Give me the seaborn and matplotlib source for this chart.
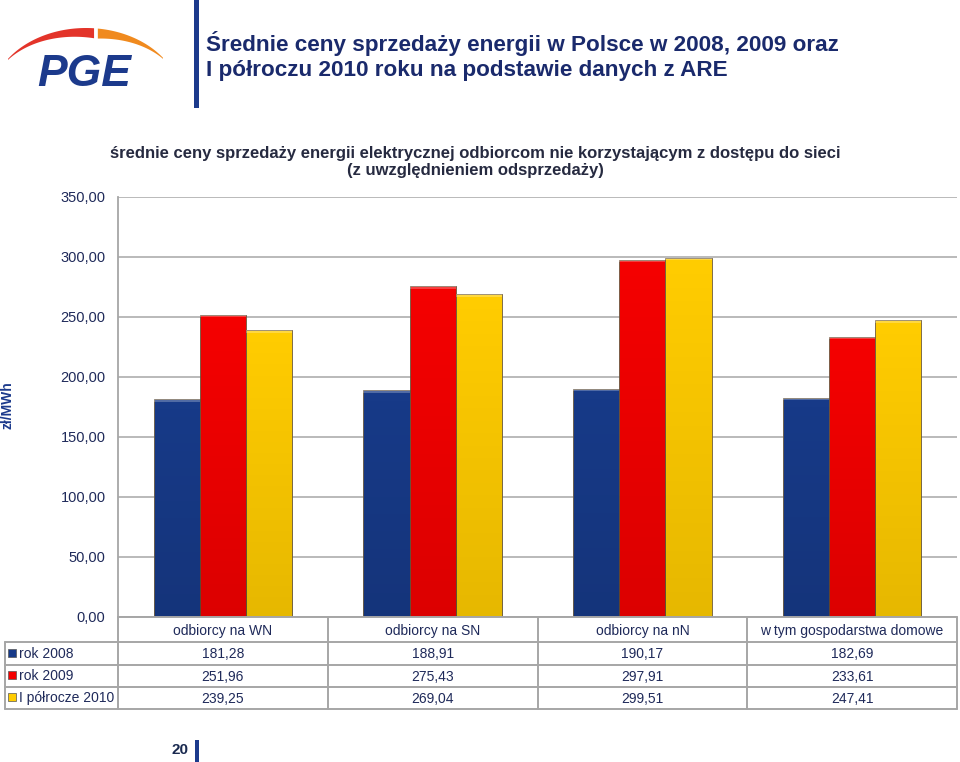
import numpy as np
import pandas as pd
import matplotlib
matplotlib.use("Agg")
import matplotlib.pyplot as plt
import seaborn as sns
from matplotlib.patches import Rectangle, Polygon

# ---- data ----
categories = ["odbiorcy na WN", "odbiorcy na SN", "odbiorcy na nN", "w tym gospodarstwa domowe"]
series = ["rok 2008", "rok 2009", "I półrocze 2010"]
v2008 = [181.28, 188.91, 190.17, 182.69]
v2009 = [251.96, 275.43, 297.91, 233.61]
v2010 = [239.25, 269.04, 299.51, 247.41]
yticks = [0, 50, 100, 150, 200, 250, 300, 350]

title = "Średnie ceny sprzedaży energii w Polsce w 2008, 2009 oraz\nI półroczu 2010 roku na podstawie danych z ARE"
subtitle = "średnie ceny sprzedaży energii elektrycznej odbiorcom nie korzystającym z dostępu do sieci\n(z uwzględnieniem odsprzedaży)"
ylabel = "zł/MWh"
page = "20"

colors = ["#173a88", "#f40000", "#ffcc00"]
navy = "#1c3a8c"
textc = "#1f2a5a"

sns.set_theme(style="white")
plt.rcParams['font.family'] = ['Liberation Sans', 'DejaVu Sans']

W, H = 960, 762
fig = plt.figure(figsize=(W / 100, H / 100), dpi=100)


def fy(py):
    return 1 - py / H


# ---- main axes ----
x0, x1, ytop, ybot = 118, 957, 197, 617
ax = fig.add_axes([x0 / W, fy(ybot), (x1 - x0) / W, (ybot - ytop) / H])

df = pd.DataFrame({
    "cat": categories * 3,
    "ser": [series[0]] * 4 + [series[1]] * 4 + [series[2]] * 4,
    "val": v2008 + v2009 + v2010,
})
sns.barplot(data=df, x="cat", y="val", hue="ser", order=categories, hue_order=series,
            palette=colors, width=0.66, gap=0, saturation=1, ax=ax, legend=False,
            edgecolor="#6a5a40", linewidth=0.6, zorder=3)

# subtle shading on bars
for p in ax.patches:
    bx, by = p.get_x(), p.get_y()
    bw, bh = p.get_width(), p.get_height()
    grad = np.linspace(0, 1, 64).reshape(-1, 1)
    im = ax.imshow(grad, extent=[bx, bx + bw, by, by + bh], aspect="auto",
                   cmap=matplotlib.colors.LinearSegmentedColormap.from_list(
                       "g", [(0, 0, 0, 0.10), (0, 0, 0, 0.0)]),
                   origin="lower", zorder=4, interpolation="bilinear")
    im.set_clip_path(p)
    ax.add_patch(Rectangle((bx, by + bh - 2.2), bw, 2.2, facecolor="white", alpha=0.25,
                           edgecolor="none", zorder=5, clip_on=True))

ax.set_xlim(-0.5, 3.5)
ax.set_ylim(0, 350)
ax.set_yticks(yticks)
ax.set_yticklabels([f"{v:.2f}".replace(".", ",") for v in yticks], color=textc, fontsize=10.5)
ax.set_xticks([])
ax.set_xlabel("")
ax.set_ylabel("")
ax.yaxis.grid(True, color="#b4b4b4", lw=1.3)
ax.set_axisbelow(True)
ax.tick_params(axis="y", length=0, pad=9)
for s in ["top", "right", "bottom"]:
    ax.spines[s].set_visible(False)
ax.spines["left"].set_color("#a6a6a6")
ax.spines["left"].set_linewidth(1.3)

fig.text(8 / W, fy(405), ylabel, rotation=90, ha="center", va="center",
         fontsize=10, fontweight="bold", color=navy)

# ---- overlay axes in pixel coords ----
ov = fig.add_axes([0, 0, 1, 1], facecolor="none")
ov.set_xlim(0, W)
ov.set_ylim(H, 0)
ov.axis("off")

# table
colx = [x0 + i * (x1 - x0) / 4 for i in range(5)]
rows_y = [617, 642, 665, 687, 709]
lc = "#a6a6a6"
ov.plot([x0, x1], [rows_y[0]] * 2, color=lc, lw=1.4)
for yy in rows_y[1:]:
    ov.plot([5, x1], [yy, yy], color=lc, lw=1.4)
ov.plot([5, 5], [rows_y[1], rows_y[-1]], color=lc, lw=1.4)
for xx in colx:
    ov.plot([xx, xx], [rows_y[0], rows_y[-1]], color=lc, lw=1.4)

for i, c in enumerate(categories):
    ov.text((colx[i] + colx[i + 1]) / 2, (rows_y[0] + rows_y[1]) / 2 + 1, c,
            ha="center", va="center", fontsize=10, color=textc)

for r, (name, vals) in enumerate(zip(series, [v2008, v2009, v2010])):
    yc = (rows_y[r + 1] + rows_y[r + 2]) / 2
    ov.add_patch(Rectangle((8, yc - 5), 8, 8, facecolor=colors[r], edgecolor="#555555", lw=0.5))
    ov.text(19, yc, name, ha="left", va="center", fontsize=10, color=textc)
    for i, v in enumerate(vals):
        ov.text((colx[i] + colx[i + 1]) / 2, yc + 1, f"{v:.2f}".replace(".", ","),
                ha="center", va="center", fontsize=10, color=textc)

# title & separator
ov.add_patch(Rectangle((194, 0), 5, 108, facecolor=navy, edgecolor="none"))
ov.text(206, 56, title, ha="left", va="center", fontsize=16.2, fontweight="bold",
        color="#1a2a6c", linespacing=1.2)
ov.text(475, 162, subtitle, ha="center", va="center", fontsize=12, fontweight="bold",
        color="#262a40", linespacing=1.2)

# page number
ov.text(188, 750, page, ha="right", va="center", fontsize=11, fontweight="bold", color="#1a2a50")
ov.add_patch(Rectangle((195, 740), 4, 22, facecolor=navy, edgecolor="none"))

# logo
cx, cy, a, b = 86, 100, 95, 72


def arc_poly(t0, t1, thick_end):
    ts = np.linspace(t0, t1, 80)
    frac = (ts - t0) / (t1 - t0)
    w = 1 + 9 * (frac if thick_end == 1 else 1 - frac)
    xo = cx + a * np.cos(ts)
    yo = cy - b * np.sin(ts)
    yi = yo + w
    pts = np.vstack([np.column_stack([xo, yo]), np.column_stack([xo[::-1], yi[::-1]])])
    return pts


tl = np.arccos(-78 / 95)
tr = np.arccos(77 / 95)
tm = np.arccos(9 / 95)
ov.add_patch(Polygon(arc_poly(tl, tm + 0.01, 1), closed=True, facecolor="#e3342a", edgecolor="none"))
ov.add_patch(Polygon(arc_poly(tm - 0.03, tr, 0), closed=True, facecolor="#f08a1e", edgecolor="none"))
ov.text(84, 74, "PGE", ha="center", va="center", fontsize=32, fontweight="bold",
        fontstyle="italic", color=navy)

fig.savefig("out.png", dpi=100)
